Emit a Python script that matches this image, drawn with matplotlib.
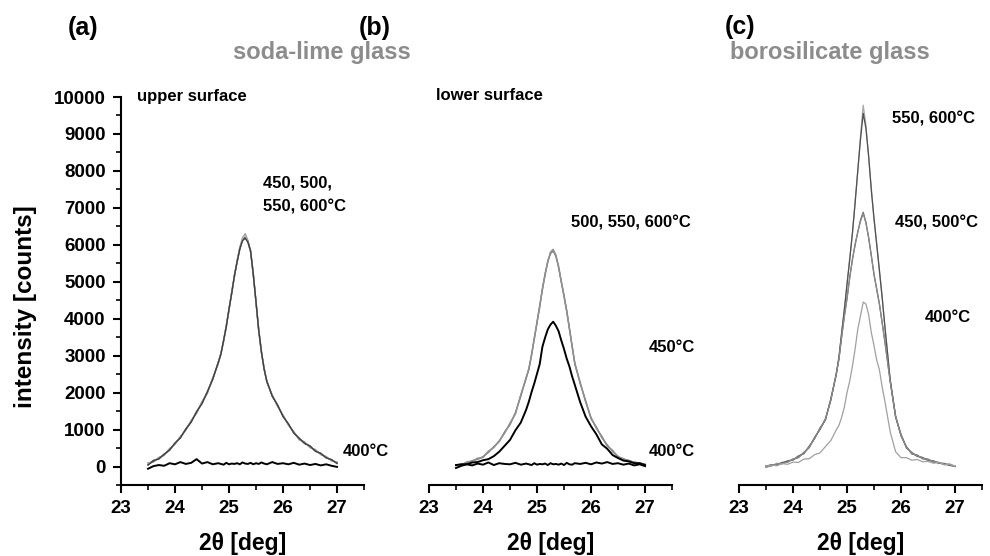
import numpy as np
import matplotlib
matplotlib.use("Agg")
import matplotlib.pyplot as plt
from matplotlib.ticker import MultipleLocator

plt.rcParams['font.family'] = ['Liberation Sans', 'DejaVu Sans']
plt.rcParams['font.weight'] = 'bold'

# shared 2theta grid (deg)
two_theta = [23.5, 23.6, 23.7, 23.8, 23.9, 24.0, 24.1, 24.2, 24.3, 24.4, 24.5, 24.6, 24.7, 24.8,
             24.85, 24.9, 24.95, 25.0, 25.05, 25.1, 25.15, 25.2, 25.25, 25.3, 25.35, 25.4, 25.45,
             25.5, 25.55, 25.6, 25.65, 25.7,
             25.8, 25.9, 26.0, 26.1, 26.2, 26.3, 26.4, 26.5, 26.6, 26.7, 26.8, 26.9, 27.0]

# (a) soda-lime glass, upper surface
a_600 = [100, 120, 250, 300, 490, 600, 820, 980, 1250, 1440, 1760, 1980, 2410, 2770,
         3080, 3380, 3830, 4230, 4730, 5130, 5580, 5930, 6190, 6300, 6120, 5800, 5230, 4420, 3730, 3080, 2680, 2280,
         1940, 1620, 1400, 1120, 950, 720, 670, 510, 460, 320, 270, 150, 120]
a_550 = [50, 170, 200, 340, 440, 640, 770, 1020, 1200, 1490, 1700, 2030, 2360, 2820,
         3030, 3420, 3780, 4270, 4680, 5170, 5530, 5880, 6130, 6200, 6090, 5840, 5180, 4470, 3680, 3120, 2630, 2320,
         1900, 1670, 1350, 1160, 900, 770, 620, 560, 410, 360, 230, 190, 80]
a_500 = [80, 130, 230, 310, 470, 610, 800, 990, 1230, 1470, 1740, 2010, 2390, 2790,
         3060, 3390, 3810, 4240, 4710, 5140, 5560, 5910, 6170, 6280, 6080, 5810, 5210, 4440, 3710, 3090, 2660, 2290,
         1930, 1650, 1380, 1130, 930, 740, 650, 530, 440, 330, 260, 160, 110]
a_450 = [40, 150, 210, 330, 450, 630, 780, 1010, 1210, 1480, 1710, 2020, 2370, 2810,
         3040, 3410, 3790, 4260, 4690, 5160, 5540, 5890, 6110, 6180, 6070, 5830, 5190, 4460, 3690, 3110, 2640, 2310,
         1910, 1660, 1360, 1150, 910, 760, 630, 550, 420, 350, 240, 180, 90]
a_400 = [-60, 10, 40, 20, 90, 60, 120, 70, 100, 200, 80, 120, 60, 90,
         70, 50, 100, 60, 80, 70, 90, 60, 110, 80, 70, 100, 60, 90, 70, 110, 80, 60,
         120, 70, 90, 60, 100, 50, 80, 40, 70, 30, 60, 20, -10]

# (b) soda-lime glass, lower surface
b_600 = [50, 40, 130, 140, 230, 240, 420, 510, 700, 900, 1180, 1420, 1950, 2380,
         2670, 3010, 3490, 3880, 4360, 4780, 5230, 5530, 5810, 5880, 5720, 5380, 5020, 4600, 4230, 3720, 3280, 2770,
         2280, 1750, 1330, 1030, 820, 550, 440, 250, 220, 140, 130, 80, 70]
b_550 = [20, 70, 90, 160, 190, 270, 380, 540, 670, 940, 1130, 1460, 1900, 2420,
         2620, 3050, 3440, 3920, 4310, 4820, 5180, 5570, 5760, 5830, 5690, 5420, 4980, 4640, 4190, 3760, 3240, 2810,
         2240, 1790, 1290, 1070, 780, 590, 400, 280, 190, 170, 110, 100, 50]
b_500 = [40, 50, 110, 150, 210, 250, 400, 520, 690, 910, 1160, 1430, 1930, 2390,
         2650, 3020, 3470, 3890, 4340, 4790, 5210, 5540, 5790, 5860, 5710, 5390, 5010, 4610, 4220, 3730, 3270, 2780,
         2270, 1760, 1320, 1040, 810, 560, 430, 260, 210, 150, 120, 90, 60]
b_450 = [40, 60, 60, 110, 120, 170, 200, 280, 400, 560, 720, 980, 1190, 1540,
         1760, 2020, 2250, 2510, 2770, 3240, 3490, 3710, 3840, 3920, 3810, 3660, 3410, 3180, 2920, 2710, 2440, 2210,
         1740, 1350, 1090, 870, 600, 480, 310, 230, 160, 140, 90, 90, 40]
b_400 = [-40, 20, 60, 30, 80, 50, 110, 40, 90, 70, 60, 100, 50, 80,
         60, 40, 90, 50, 70, 60, 80, 40, 90, 60, 70, 50, 80, 40, 100, 60, 50, 90,
         70, 100, 60, 110, 80, 120, 70, 90, 50, 80, 30, 60, 10]

# (c) borosilicate glass
c_600 = [20, 10, 90, 70, 160, 170, 290, 340, 560, 750, 1050, 1250, 1840, 2470,
         2980, 3580, 4270, 4900, 5640, 6280, 7180, 7990, 8950, 9780, 9250, 8380, 7530, 6680, 6050, 5280, 4630, 3780,
         2380, 1330, 880, 500, 390, 270, 250, 160, 160, 80, 90, 30, 20]
c_550 = [-10, 40, 50, 110, 120, 200, 240, 380, 510, 790, 1000, 1290, 1790, 2510,
         2930, 3620, 4220, 4940, 5590, 6320, 7120, 8020, 8850, 9560, 9150, 8420, 7480, 6720, 6000, 5320, 4580, 3820,
         2330, 1370, 830, 540, 340, 310, 210, 200, 120, 110, 50, 60, 0]
c_500 = [10, 50, 40, 100, 150, 180, 280, 350, 540, 760, 1030, 1260, 1820, 2480,
         2910, 3490, 4070, 4540, 5120, 5590, 6020, 6340, 6670, 6880, 6610, 6190, 5720, 5190, 4810, 4390, 3910, 3390,
         2310, 1340, 860, 510, 370, 280, 240, 170, 150, 90, 80, 30, 10]
c_450 = [-20, 20, 70, 80, 120, 200, 250, 370, 520, 780, 1010, 1280, 1800, 2500,
         2890, 3510, 4040, 4560, 5090, 5610, 5980, 6360, 6630, 6850, 6590, 6210, 5690, 5210, 4790, 4410, 3890, 3410,
         2290, 1360, 840, 530, 350, 300, 220, 190, 130, 110, 60, 50, 0]
c_400 = [10, 40, 20, 80, 60, 120, 110, 200, 210, 320, 370, 540, 700, 990,
         1110, 1330, 1600, 2000, 2310, 2710, 3180, 3720, 4080, 4450, 4400, 4120, 3630, 3270, 2880, 2620, 2160, 1780,
         940, 400, 240, 240, 170, 190, 130, 140, 90, 110, 50, 70, 10]

panels = [
    ("(a)", [(a_600, '#909090', 1.0), (a_550, '#606060', 1.0), (a_500, '#b0b0b0', 1.0),
             (a_450, '#404040', 1.0), (a_400, 'black', 1.4)]),
    ("(b)", [(b_600, '#a0a0a0', 1.0), (b_550, '#808080', 1.0), (b_500, '#909090', 1.0),
             (b_450, 'black', 1.4), (b_400, 'black', 1.4)]),
    ("(c)", [(c_600, '#a8a8a8', 0.9), (c_550, '#505050', 0.9), (c_500, '#606060', 0.9),
             (c_450, '#8a8a8a', 0.9), (c_400, '#a0a0a0', 0.9)]),
]

fig = plt.figure(figsize=(9.9, 5.56), dpi=100)
lefts = [121 / 990, 429 / 990, 739 / 990]
axes = []
for i, (tag, curves) in enumerate(panels):
    ax = fig.add_axes([lefts[i], 1 - 485 / 556, 243 / 990, 388 / 556])
    for y, col, lw in curves:
        ax.plot(two_theta, y, color=col, lw=lw)
    ax.set_xlim(23, 27.5)
    ax.set_ylim(-500, 10000)
    ax.xaxis.set_minor_locator(MultipleLocator(0.5))
    ax.set_xticks([23, 24, 25, 26, 27])
    ax.tick_params(axis='both', which='major', direction='out', length=6, width=1.5,
                   labelsize=13.5, pad=5)
    ax.tick_params(axis='both', which='minor', direction='out', length=3.5, width=1.2)
    for s in ['top', 'right']:
        ax.spines[s].set_visible(False)
    ax.spines['bottom'].set_linewidth(1.5)
    ax.spines['left'].set_linewidth(1.5)
    ax.set_xlabel("2θ [deg]", fontsize=16.5, fontweight='bold', va='center')
    ax.xaxis.set_label_coords(0.5, -0.152)
    for lab in ax.get_xticklabels() + ax.get_yticklabels():
        lab.set_fontweight('bold')
    if i == 0:
        ax.yaxis.set_major_locator(MultipleLocator(1000))
        ax.yaxis.set_minor_locator(MultipleLocator(500))
        ax.set_ylabel("intensity [counts]", fontsize=17.5, fontweight='bold', va='center')
        ax.yaxis.set_label_coords(-0.395, 0.459)
    else:
        ax.spines['left'].set_visible(False)
        ax.set_yticks([])
        ax.yaxis.set_minor_locator(plt.NullLocator())
    axes.append(ax)

# panel tags and material titles (figure pixel coords)
def ftext(x, y, s, **kw):
    fig.text(x / 990, 1 - y / 556, s, **kw)

ftext(83, 28, "(a)", fontsize=18, fontweight='bold', ha='center', va='center')
ftext(375, 28, "(b)", fontsize=18, fontweight='bold', ha='center', va='center')
ftext(740, 27, "(c)", fontsize=18, fontweight='bold', ha='center', va='center')
ftext(322, 53, "soda-lime glass", fontsize=17, fontweight='bold', color='#8c8c8c',
      ha='center', va='center')
ftext(830, 52, "borosilicate glass", fontsize=17, fontweight='bold', color='#8c8c8c',
      ha='center', va='center')

lab = dict(fontsize=12, fontweight='bold', ha='left', va='center')
ftext(137, 96, "upper surface", **lab)
ftext(436, 96, "lower surface", **lab)
ftext(263, 183, "450, 500,", **lab)
ftext(263, 207, "550, 600°C", **lab)
ftext(343, 452, "400°C", **lab)
ftext(571, 223, "500, 550, 600°C", **lab)
ftext(649, 348, "450°C", **lab)
ftext(649, 452, "400°C", **lab)
ftext(892, 119, "550, 600°C", **lab)
ftext(895, 223, "450, 500°C", **lab)
ftext(925, 317, "400°C", **lab)

fig.savefig("out.png", dpi=100)
